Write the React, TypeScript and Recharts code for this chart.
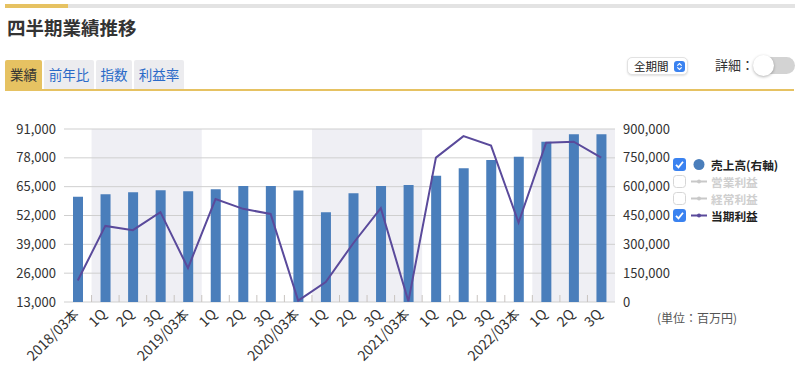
import {
  ComposedChart,
  Bar,
  Line,
  XAxis,
  YAxis,
  CartesianGrid,
  ReferenceArea,
} from 'recharts';

const periodLabels = [
  '2018/03本', '1Q', '2Q', '3Q',
  '2019/03本', '1Q', '2Q', '3Q',
  '2020/03本', '1Q', '2Q', '3Q',
  '2021/03本', '1Q', '2Q', '3Q',
  '2022/03本', '1Q', '2Q', '3Q',
];

// 売上高 (右軸, 百万円)
const sales = [
  548000, 561000, 571000, 582000,
  576000, 587000, 604000, 604000,
  580000, 467000, 566000, 604000,
  609000, 657000, 696000, 739000,
  755000, 834000, 873000, 873000,
];

// 当期利益 (左軸, 百万円)
const profit = [
  22700, 47300, 45400, 53500,
  28300, 59400, 55000, 52700,
  13600, 22000, 39500, 55300,
  13300, 78100, 87800, 83500,
  48800, 84800, 85300, 78100,
];

const leftTicks = [13000, 26000, 39000, 52000, 65000, 78000, 91000];
const rightTicks = [0, 150000, 300000, 450000, 600000, 750000, 900000];

// shaded fiscal-year bands (index ranges)
const bands: [number, number][] = [
  [1, 4],
  [9, 12],
  [17, 19],
];

const legendItems = [
  { label: '売上高(右軸)', checked: true, icon: 'dot', color: '#4a7ebb' },
  { label: '営業利益', checked: false, icon: 'line', color: '#c8c8c8' },
  { label: '経常利益', checked: false, icon: 'line', color: '#c8c8c8' },
  { label: '当期利益', checked: true, icon: 'line', color: '#5a4a9b' },
];

const tabs = [
  { label: '業績', left: 5, width: 37, active: true },
  { label: '前年比', left: 44, width: 50, active: false },
  { label: '指数', left: 96, width: 36, active: false },
  { label: '利益率', left: 134, width: 50, active: false },
];

const data = periodLabels.map((label, i) => ({
  key: `p${i}`,
  label,
  sales: sales[i],
  profit: profit[i],
}));

const FONT = "'Noto Sans CJK JP', 'Noto Sans', sans-serif";
const GOLD = '#e6c262';
const CHART_W = 800;
const MARGIN_RIGHT = 125;
const LEFT_AXIS_W = 64;
const RIGHT_AXIS_W = 60;
const PLOT_W = CHART_W - MARGIN_RIGHT - LEFT_AXIS_W - RIGHT_AXIS_W;
const BAND = PLOT_W / periodLabels.length;

const fmt = (v: number) => v.toLocaleString('en-US');

function XTick(props: any) {
  const { x, y, index } = props;
  const label = periodLabels[index];
  const ax = x + 2;
  const ay = y + 13;
  return (
    <g>
      {index > 0 && (
        <line x1={x - BAND / 2} x2={x - BAND / 2} y1={y - 7} y2={y} stroke="#c9c4c0" />
      )}
      <text
        x={ax}
        y={ay}
        transform={`rotate(-45, ${ax}, ${ay})`}
        textAnchor="end"
        fontSize={14}
        fill="#333"
        fontFamily={FONT}
      >
        {label}
      </text>
    </g>
  );
}

function CheckBox({ checked }: { checked: boolean }) {
  if (!checked) {
    return (
      <svg width={13} height={13}>
        <rect x={0.5} y={0.5} width={12} height={12} rx={3} fill="#fff" stroke="#d6d6d6" />
      </svg>
    );
  }
  return (
    <svg width={13} height={13}>
      <rect x={0} y={0} width={13} height={13} rx={3} fill="#3a82f0" />
      <path d="M3 6.8 L5.5 9.3 L10 3.8" fill="none" stroke="#fff" strokeWidth={1.8} />
    </svg>
  );
}

function LegendIcon({ icon, color }: { icon: string; color: string }) {
  if (icon === 'dot') {
    return (
      <svg width={18} height={13}>
        <circle cx={9} cy={6.5} r={5.5} fill={color} />
      </svg>
    );
  }
  return (
    <svg width={18} height={13}>
      <line x1={1} x2={17} y1={6.5} y2={6.5} stroke={color} strokeWidth={2} />
      <circle cx={9} cy={6.5} r={2} fill={color} />
    </svg>
  );
}

export default function App() {
  return (
    <div
      style={{
        position: 'absolute',
        left: 0,
        top: 0,
        width: 800,
        height: 369,
        background: '#fff',
        fontFamily: FONT,
        overflow: 'hidden',
      }}
    >
      <ComposedChart
        width={800}
        height={369}
        data={data}
        margin={{ top: 129, right: MARGIN_RIGHT, bottom: 7, left: 0 }}
      >
        <CartesianGrid vertical={false} stroke="#cfcfcf" yAxisId="left" />
        {bands.map(([a, b]) => (
          <ReferenceArea
            key={a}
            x1={`p${a}`}
            x2={`p${b}`}
            yAxisId="left"
            fill="#efeff4"
            fillOpacity={1}
            stroke="none"
            zIndex={-200}
          />
        ))}
        <XAxis
          dataKey="key"
          height={60}
          interval={0}
          tickLine={false}
          axisLine={false}
          tickSize={0}
          tickMargin={0}
          tick={(p: any) => <XTick {...p} />}
        />
        <YAxis
          yAxisId="left"
          orientation="left"
          width={LEFT_AXIS_W}
          domain={[13000, 91000]}
          ticks={leftTicks}
          tickFormatter={fmt}
          tickLine={false}
          axisLine={false}
          tickSize={0}
          tickMargin={8}
          tick={{ fill: '#333', fontSize: 13, fontFamily: FONT }}
          allowDataOverflow
        />
        <YAxis
          yAxisId="right"
          orientation="right"
          width={RIGHT_AXIS_W}
          domain={[0, 900000]}
          ticks={rightTicks}
          tickFormatter={fmt}
          tickLine={false}
          axisLine={false}
          tickSize={0}
          tickMargin={8}
          tick={{ fill: '#333', fontSize: 13, fontFamily: FONT, textAnchor: 'start' }}
        />
        <Bar
          yAxisId="right"
          dataKey="sales"
          fill="#4a7ebb"
          barSize={10}
          isAnimationActive={false}
        />
        <Line
          yAxisId="left"
          type="linear"
          dataKey="profit"
          stroke="#5a4a9b"
          strokeWidth={2}
          dot={false}
          activeDot={false}
          isAnimationActive={false}
        />
      </ComposedChart>

      {/* top progress bar */}
      <div style={{ position: 'absolute', left: 5, top: 4, width: 790, height: 4, background: '#e3e3e3' }}>
        <div style={{ width: 63, height: 4, background: GOLD }} />
      </div>

      {/* title */}
      <div
        style={{
          position: 'absolute',
          left: 7,
          top: 15,
          fontSize: 18.5,
          lineHeight: '24px',
          fontWeight: 'bold',
          color: '#333',
          whiteSpace: 'nowrap',
        }}
      >
        四半期業績推移
      </div>

      {/* tabs */}
      {tabs.map((t) => (
        <div
          key={t.label}
          style={{
            position: 'absolute',
            left: t.left,
            top: 60,
            width: t.width,
            height: 29,
            lineHeight: '29px',
            textAlign: 'center',
            fontSize: 13.5,
            background: t.active ? GOLD : '#ececef',
            color: t.active ? '#333' : '#2a6ac8',
            borderRadius: '2px 2px 0 0',
            whiteSpace: 'nowrap',
          }}
        >
          {t.label}
        </div>
      ))}
      <div style={{ position: 'absolute', left: 5, top: 88.5, width: 789, height: 2.5, background: GOLD }} />

      {/* period select */}
      <div
        style={{
          position: 'absolute',
          left: 627,
          top: 57,
          width: 61,
          height: 18,
          borderRadius: 5,
          border: '1px solid #e2e2e2',
          boxShadow: '0 1px 2px rgba(0,0,0,0.12)',
          boxSizing: 'border-box',
          background: '#fff',
        }}
      >
        <span style={{ position: 'absolute', left: 6, top: 0, fontSize: 11.5, lineHeight: '16px', color: '#222' }}>
          全期間
        </span>
        <svg style={{ position: 'absolute', left: 46, top: 2.5 }} width={11} height={11}>
          <rect width={11} height={11} rx={3} fill="#3a82f0" />
          <path d="M3.3 4.6 L5.5 2.6 L7.7 4.6 M3.3 6.4 L5.5 8.4 L7.7 6.4" fill="none" stroke="#fff" strokeWidth={1.2} />
        </svg>
      </div>

      {/* detail toggle */}
      <div style={{ position: 'absolute', left: 715, top: 56, fontSize: 13, lineHeight: '18px', color: '#333' }}>
        詳細：
      </div>
      <div
        style={{
          position: 'absolute',
          left: 756,
          top: 57,
          width: 39,
          height: 17,
          borderRadius: 9,
          background: '#d3d3d3',
        }}
      />
      <div
        style={{
          position: 'absolute',
          left: 753,
          top: 55,
          width: 21,
          height: 21,
          borderRadius: '50%',
          background: '#fff',
          boxShadow: '0 1px 3px rgba(0,0,0,0.3)',
        }}
      />

      {/* legend */}
      {legendItems.map((item, i) => (
        <div
          key={item.label}
          style={{
            position: 'absolute',
            left: 673,
            top: 156 + i * 17,
            height: 17,
            display: 'flex',
            alignItems: 'center',
            whiteSpace: 'nowrap',
          }}
        >
          <CheckBox checked={item.checked} />
          <span style={{ marginLeft: 4, display: 'flex' }}>
            <LegendIcon icon={item.icon} color={item.color} />
          </span>
          <span
            style={{
              marginLeft: 3,
              fontSize: 11.7,
              fontWeight: 'bold',
              color: item.checked ? '#222' : '#cfcfcf',
              lineHeight: '17px',
            }}
          >
            {item.label}
          </span>
        </div>
      ))}

      {/* unit note */}
      <div style={{ position: 'absolute', left: 657, top: 310, fontSize: 12, lineHeight: '16px', color: '#555', whiteSpace: 'nowrap' }}>
        (単位：百万円)
      </div>
    </div>
  );
}
